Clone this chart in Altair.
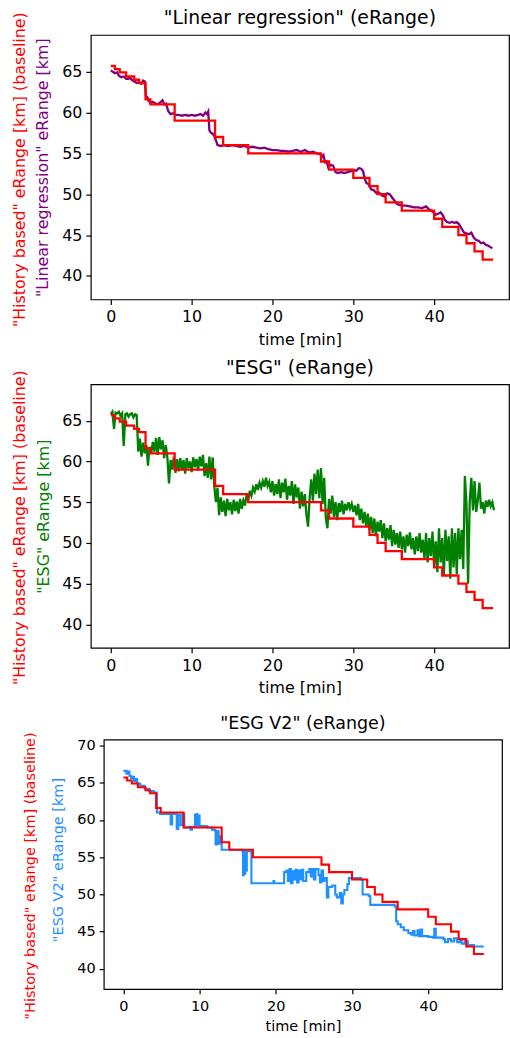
import altair as alt
import pandas as pd

FONT = "DejaVu Sans"
RED = "#ff0000"

# ---- baseline ("History based") step series: start time [min], value [km]
base_t = [0.0, 0.5, 1.1, 1.9, 2.9, 3.5, 4.3, 4.9, 7.9, 12.9, 13.9, 17.0, 26.0, 27.0,
          30.0, 32.0, 33.0, 34.0, 36.0, 40.0, 41.0, 43.0, 44.0, 45.0, 46.0, 47.3]
base_v = [65.7, 65.3, 64.9, 64.4, 64.0, 63.6, 61.6, 61.0, 59.0, 57.0, 56.0, 55.0, 54.0, 53.0,
          52.0, 51.0, 50.0, 49.0, 48.0, 47.0, 46.0, 45.0, 44.0, 43.0, 42.0, 42.0]

# ---- "Linear regression" series (time, value)
linreg = [
    (0.0, 65.15), (0.2, 65.0), (0.5, 64.8), (0.8, 64.9), (1.0, 64.5), (1.3, 64.3), (1.6, 64.4),
    (1.9, 64.1), (2.1, 64.1), (2.4, 64.2), (2.7, 63.9), (2.9, 63.8), (3.2, 63.6), (3.5, 63.7),
    (3.75, 63.5), (4.0, 63.9), (4.2, 63.8), (4.35, 62.0), (4.5, 61.9), (4.7, 61.4), (4.9, 61.2),
    (5.2, 61.3), (5.5, 61.1), (5.8, 61.0), (6.1, 61.2), (6.4, 61.5), (6.6, 61.0), (6.85, 61.1),
    (7.0, 60.5), (7.15, 60.1), (7.4, 59.8), (7.7, 59.9), (8.0, 59.7), (8.4, 59.7), (8.8, 59.6),
    (9.2, 59.7), (9.6, 59.6), (10.0, 59.7), (10.4, 59.6), (10.8, 59.7), (11.1, 59.8), (11.4, 59.6),
    (11.7, 60.0), (11.9, 59.8), (12.05, 60.1), (12.2, 57.8), (12.4, 57.5), (12.6, 57.4),
    (12.8, 57.1), (13.0, 56.6), (13.2, 56.0), (13.6, 55.9), (14.0, 56.0), (14.5, 55.9),
    (15.0, 56.0), (15.5, 55.9), (16.0, 55.8), (16.5, 55.9), (17.0, 55.7), (17.5, 55.8),
    (18.0, 55.7), (18.5, 55.6), (19.0, 55.7), (19.5, 55.5), (20.0, 55.4), (20.5, 55.4),
    (21.0, 55.3), (21.5, 55.3), (22.0, 55.2), (22.5, 55.3), (23.0, 55.4), (23.5, 55.2),
    (24.0, 55.4), (24.5, 55.1), (25.0, 55.2), (25.5, 55.0), (25.9, 54.9), (26.1, 54.6),
    (26.3, 54.8), (26.5, 53.9), (26.7, 54.0), (26.9, 53.3), (27.2, 53.6), (27.5, 53.5),
    (27.8, 52.7), (28.1, 52.6), (28.5, 52.7), (28.9, 52.6), (29.3, 52.7), (29.6, 52.8),
    (30.0, 52.9), (30.4, 52.9), (30.7, 53.2), (31.0, 53.1), (31.2, 52.8), (31.4, 52.0),
    (31.6, 51.4), (31.9, 51.2), (32.2, 50.6), (32.5, 50.5), (32.9, 50.1), (33.2, 50.2),
    (33.6, 49.8), (33.9, 49.7), (34.2, 50.1), (34.5, 50.0), (34.8, 49.6), (35.1, 49.2),
    (35.4, 48.8), (35.7, 48.7), (36.1, 48.6), (36.5, 48.6), (37.0, 48.5), (37.5, 48.4),
    (38.0, 48.4), (38.5, 48.3), (39.0, 48.5), (39.3, 48.2), (39.6, 48.0), (39.9, 47.8),
    (40.2, 47.5), (40.5, 47.6), (40.8, 47.8), (41.1, 47.4), (41.3, 46.9), (41.6, 46.6),
    (41.9, 46.5), (42.2, 46.6), (42.5, 46.5), (42.8, 46.6), (43.1, 46.3), (43.4, 45.8),
    (43.7, 45.3), (44.0, 45.2), (44.3, 45.1), (44.6, 45.3), (44.9, 44.7), (45.2, 44.4),
    (45.5, 44.3), (45.8, 44.0), (46.1, 44.1), (46.4, 43.8), (46.7, 43.7), (47.0, 43.5),
    (47.2, 43.4),
]

# ---- "ESG" series, sampled every 0.2 min from t = 0
esg_v = [
    65.8, 66.1, 64.0, 66.0, 65.9, 66.1, 65.6, 65.9, 61.9, 65.8,
    65.9, 65.5, 65.8, 65.9, 65.4, 65.8, 65.7, 61.2, 62.8, 60.6,
    62.3, 61.0, 62.0, 59.5, 61.8, 61.0, 62.4, 61.2, 62.9, 60.8,
    63.0, 61.5, 62.6, 60.4, 62.0, 60.5, 57.3, 60.2, 59.0, 60.6,
    58.6, 60.3, 58.8, 60.4, 59.0, 60.2, 58.5, 60.4, 59.2, 60.0,
    58.7, 60.5, 59.3, 60.3, 58.9, 60.6, 59.4, 60.8, 58.2, 59.8,
    58.0, 60.6, 57.8, 60.5, 57.0, 55.0, 56.8, 53.4, 55.6, 53.8,
    55.2, 53.3, 55.4, 54.0, 55.0, 53.5, 55.3, 53.9, 55.1, 53.6,
    55.4, 54.2, 55.2, 54.6, 55.9, 55.3, 56.4, 55.8, 56.8, 56.3,
    57.2, 56.5, 57.4, 56.8, 57.6, 56.9, 58.0, 57.0, 57.5, 56.2,
    57.6, 55.8, 57.2, 56.0, 57.8, 55.5, 57.4, 56.2, 57.9, 55.3,
    57.0, 55.8, 57.6, 54.8, 57.2, 55.6, 56.8, 54.2, 56.3, 54.5,
    56.0, 53.5, 52.0, 55.5, 57.8, 55.2, 58.5, 56.0, 59.0, 55.5,
    59.2, 54.8, 58.0, 53.0, 51.8, 55.4, 53.6, 55.8, 53.2, 55.0,
    52.8, 54.9, 53.8, 55.2, 53.5, 54.8, 54.0, 55.0, 54.2, 54.8,
    53.8, 54.6, 53.4, 54.8, 52.8, 54.2, 52.4, 53.8, 52.0, 53.6,
    51.6, 53.2, 51.2, 53.0, 50.8, 52.6, 51.4, 52.8, 50.6, 52.4,
    50.2, 51.8, 50.4, 52.2, 49.6, 51.6, 49.8, 51.2, 49.4, 51.4,
    49.2, 50.8, 48.8, 51.0, 49.6, 51.3, 49.2, 50.6, 48.6, 50.8,
    49.0, 51.2, 48.8, 50.4, 48.0, 51.2, 47.6, 50.6, 48.4, 51.4,
    47.2, 50.2, 46.4, 51.8, 47.6, 50.6, 46.0, 51.6, 47.8, 50.8,
    45.6, 51.8, 47.0, 51.2, 46.2, 51.8, 48.0, 51.6, 46.8, 58.2,
    54.8, 45.0, 55.0, 58.0, 54.0, 57.6, 53.8, 55.2, 57.4, 54.2,
    55.0, 53.6, 55.2, 54.4, 55.3, 54.5, 55.0, 54.0,
]
esg_t = [round(0.2 * i, 1) for i in range(len(esg_v))]

# ---- "ESG V2" series (time, value), drawn as steps
esg2 = [
    (0.0, 66.6), (0.4, 66.2), (0.6, 66.5), (0.8, 65.9), (1.0, 65.6), (1.2, 65.8), (1.4, 65.2),
    (1.6, 65.5), (1.8, 64.9), (2.2, 64.6), (2.8, 64.2), (3.4, 63.9), (4.0, 63.7), (4.4, 61.0),
    (4.8, 60.8), (6.0, 60.8), (6.2, 59.4), (6.4, 60.8), (6.9, 60.8), (7.0, 58.8), (7.2, 60.7),
    (7.5, 59.3), (7.8, 60.8), (8.0, 59.0), (8.6, 59.1), (8.8, 58.7), (9.0, 59.1), (9.4, 60.7),
    (9.5, 59.2), (9.6, 60.8), (9.7, 59.3), (9.8, 60.6), (10.0, 59.2), (11.0, 59.0), (11.6, 58.7),
    (12.0, 58.6), (12.1, 56.7), (12.3, 58.5), (12.5, 56.8), (12.7, 57.8), (12.9, 56.0),
    (14.0, 56.0), (15.6, 55.8), (15.7, 52.6), (15.8, 55.8), (15.9, 52.8), (16.0, 55.7),
    (16.1, 53.2), (16.2, 55.8), (16.8, 51.5), (19.6, 51.5), (19.7, 51.8), (19.8, 51.5),
    (21.0, 51.5), (21.1, 53.0), (21.4, 53.2), (21.6, 51.8), (21.8, 53.4), (22.0, 51.5),
    (22.2, 53.1), (22.4, 52.0), (22.6, 53.3), (22.8, 51.6), (23.0, 53.2), (23.2, 52.0),
    (23.4, 53.3), (23.6, 51.8), (24.0, 53.0), (24.4, 53.4), (24.6, 52.4), (24.8, 53.4),
    (25.0, 52.0), (25.2, 53.4), (25.6, 52.6), (25.8, 51.6), (26.0, 53.2), (26.2, 51.8),
    (26.4, 52.2), (26.7, 49.6), (26.9, 51.0), (27.4, 51.2), (27.8, 50.0), (28.0, 49.6),
    (28.4, 50.2), (28.6, 48.8), (28.8, 50.0), (29.0, 50.6), (29.4, 51.4), (29.6, 52.2),
    (30.0, 52.2), (31.2, 52.0), (31.4, 50.0), (32.2, 49.8), (32.4, 48.6), (35.6, 48.4),
    (35.8, 46.4), (36.0, 46.0), (36.4, 45.6), (36.8, 45.2), (37.4, 44.8), (37.8, 44.6),
    (38.0, 45.1), (38.2, 44.5), (38.6, 45.2), (38.8, 44.4), (39.0, 45.3), (39.2, 44.4),
    (40.0, 44.3), (40.6, 44.2), (40.8, 45.4), (41.0, 44.2), (42.0, 44.0), (42.2, 43.6),
    (42.6, 44.0), (43.0, 43.7), (43.4, 44.1), (43.8, 43.6), (44.2, 44.0), (44.4, 43.4),
    (44.8, 43.7), (45.2, 43.2), (46.0, 43.0), (47.3, 43.0),
]

x_ticks = [0, 10, 20, 30, 40]
y_ticks_a = [40, 45, 50, 55, 60, 65]
y_ticks_b = [40, 45, 50, 55, 60, 65, 70]
red_label = '"History based" eRange [km] (baseline)'


def text_layer(s, fs, color, x, y, angle=None):
    kw = dict(fontSize=fs, font=FONT, color=color, align="center")
    if angle is not None:
        kw.update(angle=angle, baseline="middle")
    else:
        kw.update(baseline="alphabetic")
    return alt.Chart(pd.DataFrame({"s": [s]})).mark_text(**kw).encode(
        x=alt.value(x), y=alt.value(y), text="s:N")


def room(y1, y2):
    # invisible rule that only reserves layout room
    return alt.Chart(pd.DataFrame({"s": [0]})).mark_rule(strokeOpacity=0).encode(
        x=alt.value(0), x2=alt.value(0), y=alt.value(y1), y2=alt.value(y2))


def panel(ser_t, ser_v, color, interp, title, label2, fs, tfs, w, h, xdom, ydom, yvals,
          red_xy, col_xy, title_y, stroke_w, tick, xlab_pad, xtitle_pad, reserve=None):
    base_df = pd.DataFrame({"t": base_t, "v": base_v})
    ser_df = pd.DataFrame({"t": ser_t, "v": ser_v})
    x = alt.X("t:Q", scale=alt.Scale(domain=xdom, nice=False, zero=False),
              axis=alt.Axis(values=x_ticks, format="d", title="time [min]", grid=False,
                            domain=False, tickSize=tick, tickColor="black", tickWidth=1.2,
                            labelFontSize=fs, labelColor="black", labelFont=FONT,
                            labelPadding=xlab_pad, titleFontSize=fs, titleFont=FONT,
                            titleFontWeight="normal", titleColor="black",
                            titlePadding=xtitle_pad))
    y = alt.Y("v:Q", scale=alt.Scale(domain=ydom, nice=False, zero=False),
              axis=alt.Axis(values=yvals, format="d", title=None, grid=False, domain=False,
                            tickSize=tick, tickColor="black", tickWidth=1.2, labelFontSize=fs,
                            labelColor="black", labelFont=FONT, labelPadding=4))
    ser = alt.Chart(ser_df).mark_line(color=color, strokeWidth=stroke_w,
                                      interpolate=interp).encode(x=x, y=y)
    base = alt.Chart(base_df).mark_line(color=RED, strokeWidth=stroke_w,
                                        interpolate="step-after").encode(x=x, y=y)
    layers = [
        ser, base,
        text_layer(red_label, fs, RED, red_xy[0], red_xy[1], angle=270),
        text_layer(label2, fs, color, col_xy[0], col_xy[1], angle=270),
        text_layer(title, tfs, "black", w / 2, title_y),
    ]
    if reserve is not None:
        layers.append(room(reserve[0], reserve[1]))
    return alt.layer(*layers).properties(width=w, height=h)


lr_t = [p[0] for p in linreg]
lr_v = [p[1] for p in linreg]
e2_t = [p[0] for p in esg2]
e2_v = [p[1] for p in esg2]

p1 = panel(lr_t, lr_v, "#800080", "linear", '"Linear regression" (eRange)',
           '"Linear regression" eRange [km]', 15.9, 18.9, 419, 265,
           [-2.47, 49.26], [37.13, 69.48], y_ticks_a, (-71, 135), (-47.5, 133), -11.2, 2.3,
           5, 4.5, 6.5)
p2 = panel(esg_t, esg_v, "#008000", "linear", '"ESG" (eRange)', '"ESG" eRange [km]',
           15.9, 18.9, 419, 264, [-2.47, 49.26], [37.13, 69.48], y_ticks_a,
           (-71, 143.7), (-47, 132.7), -10.5, 2.3, 5, 4.5, 6.5, reserve=(264, 314))
p3 = panel(e2_t, e2_v, "#1e90ff", "step-after", '"ESG V2" (eRange)', '"ESG V2" eRange [km]',
           14.5, 17.5, 399, 250, [-2.57, 49.69], [37.29, 70.8], y_ticks_b,
           (-72.7, 136.7), (-44.9, 120.7), -11, 2.1, 4.6, 5.5, 6.5, reserve=(-31.3, 0))

spacer = alt.Chart(pd.DataFrame({"s": [0]})).mark_point(opacity=0).encode(
    x=alt.value(0), y=alt.value(0)
).properties(width=1, height=10, view=alt.ViewBackground(stroke="transparent"))

row3 = alt.hconcat(spacer, p3, spacing=12, bounds="flush")

chart = alt.vconcat(p1, p2, row3, spacing=9).properties(
    padding={"left": 11, "top": 7, "right": 0, "bottom": 0}
).configure(
    font=FONT, view=alt.ViewConfig(stroke="black", strokeWidth=1.2)
)

chart.save("out.html", embed_options={"renderer": "svg", "actions": False})
